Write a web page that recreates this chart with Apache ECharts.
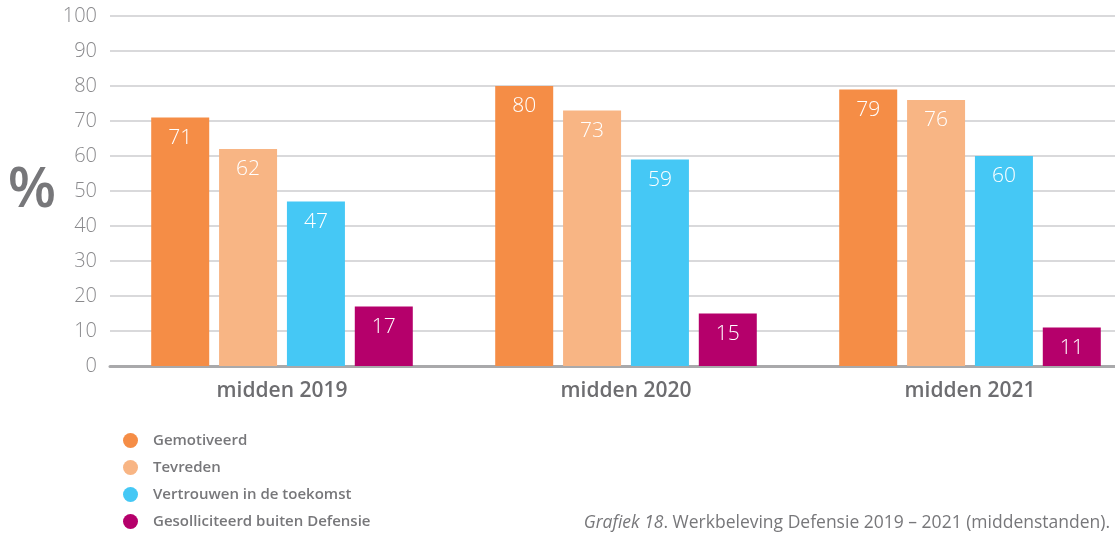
<!DOCTYPE html>
<html><head><meta charset="utf-8">
<script src="https://cdn.jsdelivr.net/npm/echarts@6/dist/echarts.min.js"></script>
<style>html,body{margin:0;padding:0;background:#fff}#c{width:1115px;height:533px}</style>
</head><body><div id="c"></div>
<script>
const categories = ['midden 2019', 'midden 2020', 'midden 2021'];
const seriesNames = ['Gemotiveerd', 'Tevreden', 'Vertrouwen in de toekomst', 'Gesolliciteerd buiten Defensie'];
const gemotiveerd = [71, 80, 79];
const tevreden = [62, 73, 76];
const vertrouwen = [47, 59, 60];
const gesolliciteerd = [17, 15, 11];
const colors = ['#F58D46', '#F8B584', '#45C8F5', '#B5006B'];
const yTicks = [0, 100, 10];

const values = [gemotiveerd, tevreden, vertrouwen, gesolliciteerd];
const chart = echarts.init(document.getElementById('c'));
const FONT = '"Open Sans", "Noto Sans", sans-serif';
chart.setOption({
  animation: false,
  color: colors,
  textStyle: { fontFamily: FONT },
  grid: { left: 110, width: 1032, top: 16, height: 350, containLabel: false, outerBoundsMode: 'none' },
  legend: {
    orient: 'vertical', left: 118, top: 428, height: 130,
    icon: 'circle', itemWidth: 15, itemHeight: 15, itemGap: 12,
    textStyle: { color: '#77777a', fontSize: 15, fontWeight: 600, fontFamily: FONT, padding: [0, 0, 0, 10] },
    data: seriesNames
  },
  xAxis: {
    type: 'category', data: categories,
    axisLine: { lineStyle: { color: '#a9a9ab', width: 3 } },
    axisTick: { show: false },
    axisLabel: { color: '#6d6d70', fontSize: 21, fontWeight: 600, margin: 15, fontFamily: FONT }
  },
  yAxis: {
    type: 'value', min: yTicks[0], max: yTicks[1], interval: yTicks[2],
    name: '%', nameLocation: 'middle', nameRotate: 0, nameGap: 54,
    nameTextStyle: { color: '#77777a', fontSize: 56, fontWeight: 600, fontFamily: FONT, align: 'right', verticalAlign: 'middle', padding: [8, 0, 0, 0] },
    axisLine: { show: false }, axisTick: { show: false },
    axisLabel: { color: '#8a8a8d', fontSize: 20, margin: 13, fontFamily: FONT, fontWeight: 300 },
    splitLine: { lineStyle: { color: '#cdcdcf', width: 1.5 } }
  },
  series: seriesNames.map((n, i) => ({
    name: n, type: 'bar', data: values[i], barWidth: 58, barGap: '17%',
    itemStyle: { color: colors[i] },
    label: { show: true, position: 'insideTop', distance: 10, color: '#fff', fontSize: 21, fontFamily: FONT, fontWeight: 300 }
  })),
  graphic: [{
    type: 'text', right: 5, top: 514,
    style: {
      rich: {
        i: { fontStyle: 'italic', fontSize: 17.5, fill: '#77777a', fontFamily: FONT },
        n: { fontSize: 17.5, fill: '#77777a', fontFamily: FONT }
      },
      text: '{i|Grafiek 18}{n|. Werkbeleving Defensie 2019 – 2021 (middenstanden).}'
    }
  }]
});
</script></body></html>
